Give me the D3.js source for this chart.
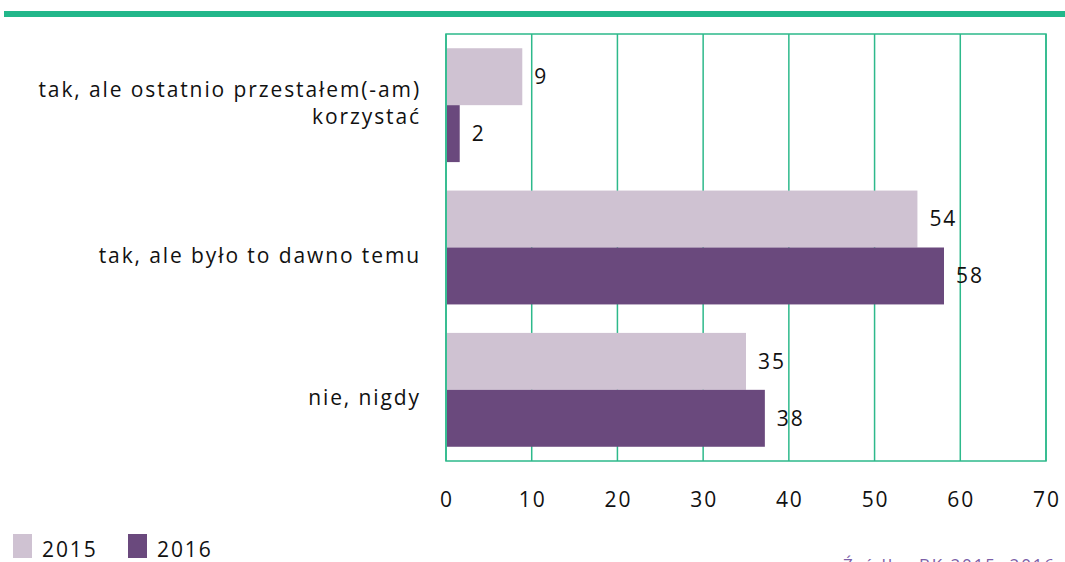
<!DOCTYPE html>
<html>
<head>
<meta charset="utf-8">
<script src="https://cdn.jsdelivr.net/npm/d3@7"></script>
<style>
  body { margin: 0; background: #fff; }
  svg { display: block; font-family: "Open Sans", sans-serif; letter-spacing: 1.9px; }
</style>
</head>
<body>
<div id="chart"></div>
<script>
// chart data
const categories = ['tak, ale ostatnio przestałem(-am)\nkorzystać', 'tak, ale było to dawno temu', 'nie, nigdy']
const years = ['2015', '2016']
const values2015 = [8.9, 55, 35]
const values2016 = [1.6, 58.1, 37.2]
const labels2015 = ['9', '54', '35']
const labels2016 = ['2', '58', '38']
const xTicks = [0, 10, 20, 30, 40, 50, 60, 70]

const width = 1065,
  height = 562
const plot = { left: 446, right: 1046, top: 34, bottom: 461 }
const colors = ['#cfc2d2', '#6a497d']
const green = '#2db98b'

let svg = d3.select('#chart')
  .append('svg')
  .attr('width', width)
  .attr('height', height)

// top green band
svg.append('rect')
  .attr('x', 4).attr('y', 11)
  .attr('width', width - 4).attr('height', 6)
  .attr('fill', '#22b78a')

const x = d3.scaleLinear()
  .domain([0, 70])
  .range([plot.left, plot.right])

const y = d3.scaleBand()
  .domain(d3.range(categories.length))
  .range([plot.top, plot.bottom])
  .paddingInner(0.2)
  .paddingOuter(0.1)

const ySub = d3.scaleBand()
  .domain(years)
  .range([0, y.bandwidth()])

// grid
svg.append('g')
  .selectAll('line')
  .data(xTicks)
  .enter()
  .append('line')
  .attr('x1', d => x(d)).attr('x2', d => x(d))
  .attr('y1', plot.top).attr('y2', plot.bottom)
  .attr('stroke', green)
  .attr('stroke-width', 1.5)

svg.append('rect')
  .attr('x', plot.left).attr('y', plot.top)
  .attr('width', plot.right - plot.left)
  .attr('height', plot.bottom - plot.top)
  .attr('fill', 'none')
  .attr('stroke', green)
  .attr('stroke-width', 1.5)

// bars
const series = [values2015, values2016]
const seriesLabels = [labels2015, labels2016]

series.forEach((vals, s) => {
  svg.append('g')
    .selectAll('rect')
    .data(vals)
    .enter()
    .append('rect')
    .attr('x', x(0) + 1)
    .attr('y', (d, i) => y(i) + ySub(years[s]))
    .attr('width', d => x(d) - x(0) - 1)
    .attr('height', ySub.bandwidth())
    .attr('fill', colors[s])

  svg.append('g')
    .selectAll('text')
    .data(vals)
    .enter()
    .append('text')
    .attr('x', d => x(d) + 12)
    .attr('y', (d, i) => y(i) + ySub(years[s]) + ySub.bandwidth() / 2)
    .attr('dy', '0.35em')
    .attr('font-size', 21)
    .attr('fill', '#111')
    .text((d, i) => seriesLabels[s][i])
})

// category labels
categories.forEach((c, i) => {
  const lines = c.split('\n')
  const cy = y(i) + y.bandwidth() / 2
  const t = svg.append('text')
    .attr('text-anchor', 'end')
    .attr('font-size', 21)
    .attr('fill', '#111')
  lines.forEach((ln, j) => {
    t.append('tspan')
      .attr('x', 421)
      .attr('y', lines.length > 1 ? cy - 16 + j * 27 : cy + 8)
      .attr('dy', '0.35em')
      .text(ln)
  })
})

// x axis labels
svg.append('g')
  .selectAll('text')
  .data(xTicks)
  .enter()
  .append('text')
  .attr('x', d => x(d) + 1)
  .attr('y', 500)
  .attr('dy', '0.35em')
  .attr('text-anchor', 'middle')
  .attr('font-size', 21)
  .attr('fill', '#111')
  .text(d => d)

// legend
const legend = svg.append('g')
  .selectAll('g')
  .data(years)
  .enter()
  .append('g')
  .attr('transform', (d, i) => `translate(${13 + i * 115}, 0)`)
legend.append('rect')
  .attr('x', 0).attr('y', 534)
  .attr('width', 19).attr('height', 24)
  .attr('fill', (d, i) => colors[i])
legend.append('text')
  .attr('x', 29).attr('y', 557)
  .attr('font-size', 21)
  .attr('fill', '#111')
  .text(d => d)

// source, cut off at the bottom edge
svg.append('text')
  .attr('x', 843).attr('y', 571)
  .attr('font-size', 17)
  .attr('fill', '#7b5ea7')
  .text('Źródło: BK 2015, 2016')
</script>
</body>
</html>
